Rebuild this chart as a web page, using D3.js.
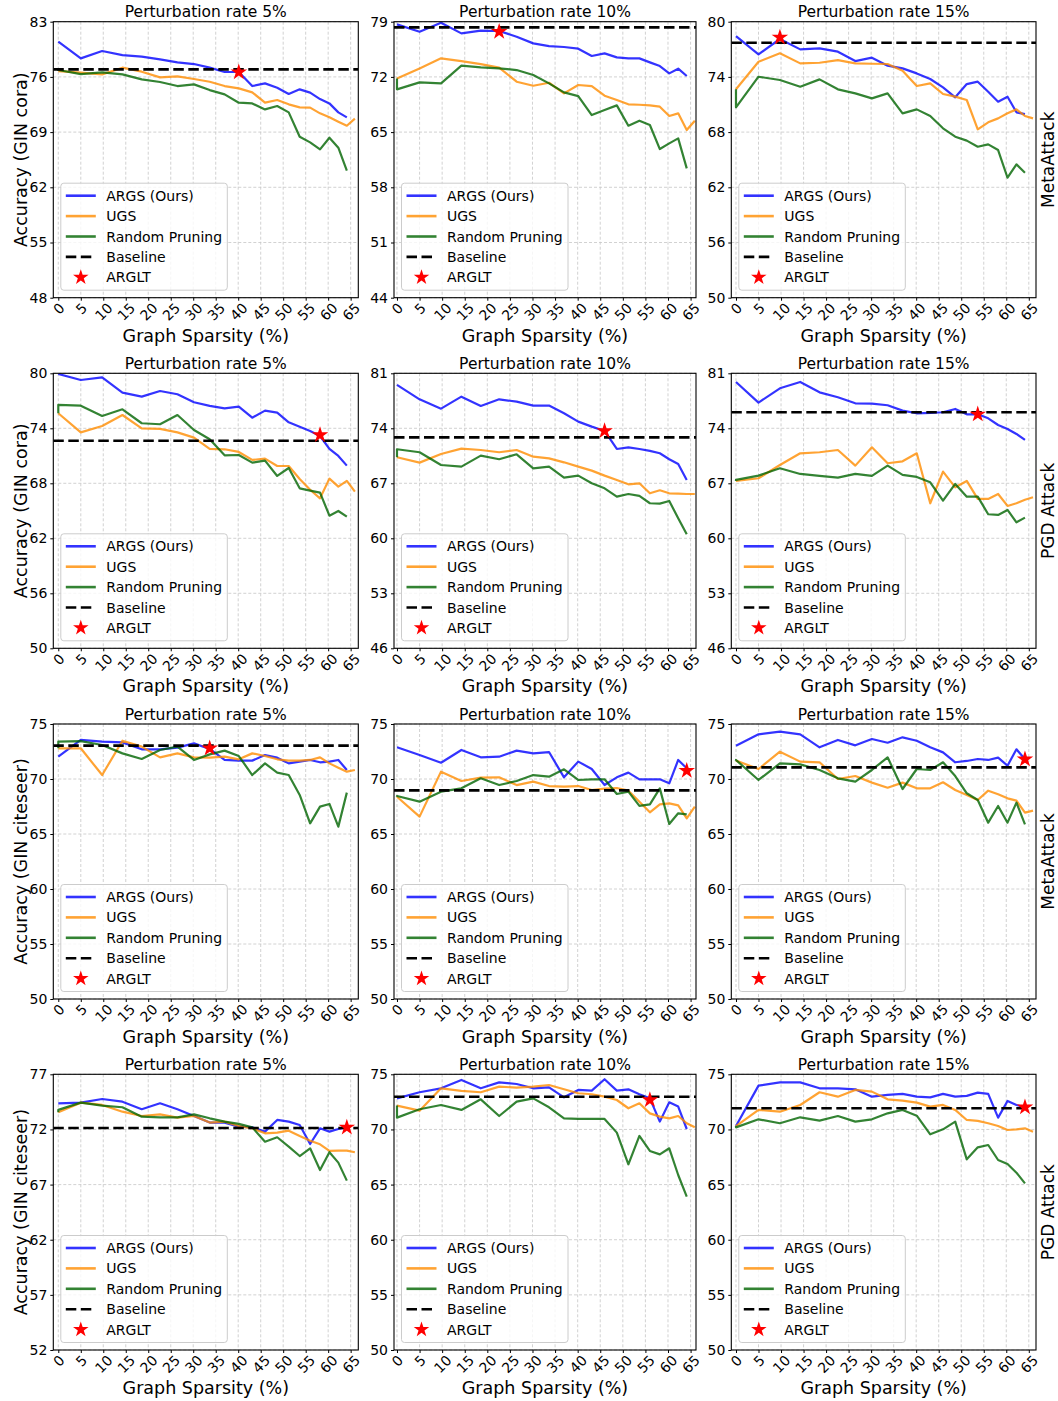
<!DOCTYPE html>
<html><head><meta charset="utf-8">
<script src="https://cdn.jsdelivr.net/npm/d3@7"></script>
<style>body{margin:0;background:#fff}svg{display:block;font-family:"DejaVu Sans",sans-serif}</style>
</head><body>
<script>
// ---------- data ----------
const sparsity = [0,5,9.75,14.26,18.55,22.62,26.49,30.17,33.66,36.98,40.13,43.12,45.96,48.67,51.23,53.67,55.99,58.19,60.28,62.26,64.15,65.94];
const sparsityRandom = [0,0,5,9.75,14.26,18.55,22.62,26.49,30.17,33.66,36.98,40.13,43.12,45.96,48.67,51.23,53.67,55.99,58.19,60.28,62.26,64.15];
const xTicks = [0,5,10,15,20,25,30,35,40,45,50,55,60,65];
const titles = ["Perturbation rate 5%","Perturbation rate 10%","Perturbation rate 15%"];
const yLabels = ["Accuracy (GIN cora)","Accuracy (GIN cora)","Accuracy (GIN citeseer)","Accuracy (GIN citeseer)"];
const rowLabels = ["MetaAttack","PGD Attack","MetaAttack","PGD Attack"];
const seriesNames = ["ARGS (Ours)","UGS","Random Pruning","Baseline","ARGLT"];
const yTicks = [
  [48,55,62,69,76,83],[44,51,58,65,72,79],[50,56,62,68,74,80],
  [50,56,62,68,74,80],[46,53,60,67,74,81],[46,53,60,67,74,81],
  [50,55,60,65,70,75],[50,55,60,65,70,75],[50,55,60,65,70,75],
  [52,57,62,67,72,77],[50,55,60,65,70,75],[50,55,60,65,70,75]
];

// Row 1: GIN cora, MetaAttack
const args_cora_meta_5  = [80.46,78.35,79.28,78.77,78.56,78.22,77.84,77.63,77.17,76.62,76.62,74.84,75.18,74.63,73.83,74.42,74.0,73.19,72.64,71.5,70.87];
const ugs_cora_meta_5   = [76.74,76.53,76.32,77.17,76.66,75.94,76.07,75.73,75.39,74.84,74.55,74.04,72.73,73.07,72.52,72.14,72.1,71.38,70.87,70.32,69.81,70.7];
const rand_cora_meta_5  = [76.74,76.87,76.36,76.57,76.32,75.69,75.35,74.84,75.05,74.33,73.79,72.73,72.64,71.88,72.31,71.5,68.42,67.7,66.81,68.29,67.02,64.1];
const args_cora_meta_10 = [78.66,77.73,78.87,77.52,77.86,77.82,77.1,76.25,75.91,75.79,75.58,74.65,74.98,74.48,74.35,74.35,73.84,73.38,72.45,73.04,72.11];
const ugs_cora_meta_10  = [71.81,73.08,74.35,74.01,73.63,73.17,71.39,70.88,71.26,69.91,70.97,70.84,69.62,69.07,68.52,68.47,68.4,68.22,67.04,67.38,65.26,66.45];
const rand_cora_meta_10 = [71.81,70.42,71.31,71.18,73.42,73.21,73.08,72.87,72.24,71.18,70.04,69.57,67.16,67.8,68.39,65.81,66.45,65.9,62.85,63.57,64.2,60.4];
const args_cora_meta_15 = [78.44,76.45,78.12,76.99,77.1,76.74,75.72,76.09,75.22,74.93,74.38,73.77,72.86,71.78,73.22,73.48,72.39,71.3,71.85,70.15,69.96];
const ugs_cora_meta_15  = [72.65,75.65,76.56,75.47,75.54,75.83,75.47,75.43,75.4,74.67,73.01,73.3,72.14,71.85,71.49,68.3,69.06,69.49,70.04,70.47,69.75,69.49];
const rand_cora_meta_15 = [72.65,70.69,74.02,73.66,72.93,73.73,72.65,72.21,71.67,72.21,70.04,70.47,69.75,68.41,67.5,67.07,66.41,66.67,66.05,63.04,64.49,63.59];
// Row 2: GIN cora, PGD
const args_cora_pgd_5  = [79.93,79.27,79.56,77.89,77.45,78.07,77.71,76.84,76.44,76.18,76.36,75.16,75.93,75.71,74.65,74.18,73.71,73.16,71.75,70.98,69.93];
const ugs_cora_pgd_5   = [75.64,73.56,74.25,75.45,74.0,73.93,73.56,72.98,71.75,71.71,71.42,70.55,70.69,69.89,69.89,68.47,67.3,66.36,68.51,67.64,68.26,67.09];
const rand_cora_pgd_5  = [75.64,76.55,76.47,75.35,76.07,74.55,74.44,75.45,73.82,72.8,71.05,71.09,70.26,70.47,68.8,69.67,67.45,67.2,66.98,64.47,64.98,64.36];
const args_cora_pgd_10 = [79.52,77.69,76.5,78.03,76.84,77.69,77.39,76.89,76.89,75.91,74.85,74.21,73.66,71.37,71.58,71.37,71.12,70.82,70.06,69.46,67.43];
const ugs_cora_pgd_10  = [70.31,69.63,70.73,71.41,71.24,70.95,71.24,70.39,70.18,69.67,69.12,68.61,67.98,67.43,66.87,67.0,65.73,66.11,65.73,65.69,65.64,65.64];
const rand_cora_pgd_10 = [70.31,71.33,70.95,69.33,69.12,70.52,70.06,70.69,68.91,69.12,67.72,67.98,67.0,66.36,65.3,65.64,65.39,64.46,64.41,64.75,62.55,60.51];
const args_cora_pgd_15 = [79.9,77.27,79.09,79.9,78.58,77.95,77.18,77.14,76.93,76.25,75.91,75.96,76.04,76.46,75.78,75.78,75.27,74.42,73.92,73.28,72.52];
const ugs_cora_pgd_15  = [67.3,67.64,69.33,70.82,70.95,71.24,69.25,71.58,69.55,69.8,70.82,64.46,68.49,66.49,67.3,65.01,65.01,65.64,64.12,64.46,64.9,65.22];
const rand_cora_pgd_15 = [67.3,67.43,67.98,68.91,68.19,67.94,67.72,68.19,67.94,69.25,68.07,67.81,67.13,64.8,66.92,65.3,65.3,63.06,62.97,63.61,62.04,62.63];
// Row 3: GIN citeseer, MetaAttack
const args_cite_meta_5  = [72.03,73.55,73.39,73.33,72.7,72.7,72.85,73.24,72.73,71.73,71.67,71.67,72.18,71.94,71.42,71.58,71.73,71.52,71.58,71.73,70.82];
const ugs_cite_meta_5   = [72.79,72.79,70.36,73.48,72.94,71.97,72.33,71.97,71.94,72.03,71.79,72.33,72.09,71.79,71.67,71.67,71.73,71.97,71.42,71.03,70.67,70.82];
const rand_cite_meta_5  = [72.79,73.39,73.45,73.09,72.33,71.82,72.64,72.94,71.73,72.24,72.58,72.09,70.36,71.42,70.58,70.36,68.55,65.97,67.49,67.73,65.67,68.76];
const args_cite_meta_10 = [72.88,72.18,71.48,72.64,71.97,72.03,72.58,72.33,72.45,70.15,71.58,70.91,69.45,70.15,70.58,69.97,69.97,69.97,69.61,71.73,70.97];
const ugs_cite_meta_10  = [68.39,66.58,70.67,69.82,70.12,70.15,69.45,69.76,69.36,69.3,69.36,69.0,69.12,69.18,68.94,67.94,66.97,67.7,67.79,67.6,66.42,67.49];
const rand_cite_meta_10 = [68.39,68.45,67.94,68.85,69.15,70.06,69.45,69.82,70.36,70.21,70.88,69.91,69.97,69.97,68.64,68.85,67.55,67.7,69.15,65.91,66.88,66.79];
const args_cite_meta_15 = [73.03,74.06,74.3,74.06,72.88,73.55,73.06,73.64,73.3,73.79,73.48,72.88,72.42,71.52,71.64,71.82,71.73,71.94,71.21,72.7,71.79];
const ugs_cite_meta_15  = [71.67,70.91,72.48,71.58,71.52,70.0,70.27,69.67,69.21,69.67,69.15,69.15,69.7,69.0,68.55,68.09,68.94,68.61,68.24,68.03,66.94,67.12];
const rand_cite_meta_15 = [71.67,71.73,69.91,71.42,71.33,70.82,70.06,69.76,70.82,71.97,69.09,70.91,70.82,71.52,70.27,68.7,68.09,66.03,67.55,66.03,67.85,65.88];
// Row 4: GIN citeseer, PGD
const args_cite_pgd_5  = [74.37,74.43,74.76,74.52,73.83,74.37,73.83,73.22,72.62,72.62,72.25,72.19,71.8,72.86,72.71,72.4,70.68,72.1,71.8,72.04,72.19];
const ugs_cite_pgd_5   = [73.55,74.43,74.22,73.61,73.22,73.37,73.07,73.22,72.62,72.71,72.31,72.1,71.65,71.71,71.89,71.41,70.98,70.65,70.05,70.08,70.08,69.93];
const rand_cite_pgd_5  = [73.55,73.77,74.43,74.16,74.01,73.16,73.1,73.1,73.37,73.01,72.71,72.5,72.19,70.89,71.29,70.44,69.59,70.29,68.32,69.93,68.99,67.36];
const args_cite_pgd_10 = [72.82,73.37,73.73,74.49,73.73,74.27,74.12,73.73,73.82,72.91,73.58,73.52,74.55,73.52,73.64,73.19,72.82,70.71,72.46,72.07,70.04];
const ugs_cite_pgd_10  = [72.16,71.7,73.73,73.49,73.37,73.88,73.79,73.88,74.03,73.64,73.28,73.19,72.97,72.67,71.92,72.37,71.46,71.16,71.0,71.22,70.56,70.19];
const rand_cite_pgd_10 = [72.16,71.07,71.83,72.22,71.77,72.73,71.22,72.52,72.82,72.01,71.01,70.95,70.95,70.95,69.71,66.84,69.41,68.05,67.74,68.29,65.87,63.91];
const args_cite_pgd_15 = [70.31,73.97,74.27,74.27,73.73,73.73,73.64,72.97,73.13,73.22,72.97,72.91,73.22,72.97,73.04,73.34,73.22,71.07,72.58,72.22,72.01];
const ugs_cite_pgd_15  = [70.31,71.77,71.61,72.22,73.37,72.97,73.58,73.43,72.73,72.61,72.43,72.07,72.22,71.77,70.86,70.77,70.56,70.31,69.95,70.0,70.1,69.8];
const rand_cite_pgd_15 = [70.31,70.19,70.92,70.56,71.1,70.8,71.22,70.71,70.92,71.46,71.77,71.25,69.56,70.01,70.71,67.29,68.38,68.59,67.23,66.87,66.08,65.11];

const baselines = [76.95,78.28,77.72, 72.65,72.85,76.04, 73.03,68.97,71.06, 72.13,72.97,71.92];
const stars = [[40.13,76.6],[22.62,77.73],[9.75,78.3],
               [58.19,73.27],[45.96,73.66],[53.67,75.78],
               [33.66,72.79],[64.15,70.76],[64.15,71.79],
               [64.15,72.19],[55.99,72.67],[64.15,72.01]];

const argsData = [args_cora_meta_5,args_cora_meta_10,args_cora_meta_15,args_cora_pgd_5,args_cora_pgd_10,args_cora_pgd_15,
                  args_cite_meta_5,args_cite_meta_10,args_cite_meta_15,args_cite_pgd_5,args_cite_pgd_10,args_cite_pgd_15];
const ugsData  = [ugs_cora_meta_5,ugs_cora_meta_10,ugs_cora_meta_15,ugs_cora_pgd_5,ugs_cora_pgd_10,ugs_cora_pgd_15,
                  ugs_cite_meta_5,ugs_cite_meta_10,ugs_cite_meta_15,ugs_cite_pgd_5,ugs_cite_pgd_10,ugs_cite_pgd_15];
const randData = [rand_cora_meta_5,rand_cora_meta_10,rand_cora_meta_15,rand_cora_pgd_5,rand_cora_pgd_10,rand_cora_pgd_15,
                  rand_cite_meta_5,rand_cite_meta_10,rand_cite_meta_15,rand_cite_pgd_5,rand_cite_pgd_10,rand_cite_pgd_15];

// ---------- layout ----------
const W = 1058, H = 1401;
const colLeft = [53.3, 394, 731.3], colRight = [358.3, 696, 1036];
const colXDomain = [[-1.11,66.7],[-0.66,66.2],[-1.04,66.6]];
const rowTop = [21.7, 373.3, 724, 1074.3], rowBottom = [297.7, 648.3, 999, 1350];
const colors = {args:"#0000ff", ugs:"#ff8c00", rand:"#006400"};
const FONT = '"DejaVu Sans", sans-serif';

const svg = d3.select("body").append("svg").attr("width", W).attr("height", H);
svg.append("rect").attr("width", W).attr("height", H).attr("fill", "#fff");
const star = d3.symbol().type(d3.symbolStar).size(85);
const legendStar = d3.symbol().type(d3.symbolStar).size(75);

for (let k = 0; k < 12; k++) {
  const r = Math.floor(k / 3), c = k % 3;
  const L = colLeft[c], R = colRight[c], T = rowTop[r], B = rowBottom[r];
  const yt = yTicks[k];
  const x = d3.scaleLinear().domain(colXDomain[c]).range([L, R]);
  const y = d3.scaleLinear().domain([yt[0], yt[yt.length - 1]]).range([B, T]);
  const g = svg.append("g");

  // grid
  const grid = g.append("g").attr("stroke", "#b0b0b0").attr("stroke-width", 0.8)
    .attr("stroke-dasharray", "3,2").attr("opacity", 0.7);
  grid.selectAll("line.gx").data(xTicks).join("line")
    .attr("x1", d => x(d)).attr("x2", d => x(d)).attr("y1", T).attr("y2", B);
  grid.selectAll("line.gy").data(yt).join("line").attr("class","gy")
    .attr("y1", d => y(d)).attr("y2", d => y(d)).attr("x1", L).attr("x2", R);

  const clipId = "clip" + k;
  g.append("clipPath").attr("id", clipId).append("rect")
    .attr("x", L).attr("y", T).attr("width", R - L).attr("height", B - T);
  const plot = g.append("g").attr("clip-path", `url(#${clipId})`);

  const line = d3.line().x(d => x(d[0])).y(d => y(d[1]));
  const series = [
    {vals: argsData[k], xs: sparsity, col: colors.args},
    {vals: ugsData[k], xs: sparsity, col: colors.ugs},
    {vals: randData[k], xs: sparsityRandom, col: colors.rand}
  ];
  series.forEach(s => {
    plot.append("path").datum(s.vals.map((v, i) => [s.xs[i], v]))
      .attr("d", line).attr("fill", "none").attr("stroke", s.col)
      .attr("stroke-opacity", 0.8).attr("stroke-width", 2.2)
      .attr("stroke-linejoin", "round").attr("stroke-linecap", "butt");
  });
  plot.append("line").attr("x1", L).attr("x2", R)
    .attr("y1", y(baselines[k])).attr("y2", y(baselines[k]))
    .attr("stroke", "#000").attr("stroke-width", 2.6).attr("stroke-dasharray", "10.5,4.5");
  g.append("path").attr("d", star)
    .attr("transform", `translate(${x(stars[k][0])},${y(stars[k][1])})`)
    .attr("fill", "#ff0000");

  // spines
  g.append("rect").attr("x", L).attr("y", T).attr("width", R - L).attr("height", B - T)
    .attr("fill", "none").attr("stroke", "#000").attr("stroke-width", 1.1);

  // y axis
  const yAxis = d3.axisLeft(y).tickValues(yt).tickSize(3).tickPadding(3).tickFormat(d3.format("d"));
  const ya = g.append("g").attr("transform", `translate(${L},0)`).call(yAxis);
  ya.select(".domain").remove();
  ya.selectAll("text").attr("font-size", 14).attr("font-family", FONT).attr("fill", "#000");
  ya.selectAll("line").attr("stroke", "#000");

  // x axis with rotated labels
  const xAxis = d3.axisBottom(x).tickValues(xTicks).tickSize(3).tickFormat(d3.format("d"));
  const xa = g.append("g").attr("transform", `translate(0,${B})`).call(xAxis);
  xa.select(".domain").remove();
  xa.selectAll("line").attr("stroke", "#000");
  xa.selectAll("text").attr("font-size", 14).attr("font-family", FONT).attr("fill", "#000")
    .attr("dy", null).attr("y", 0)
    .attr("dominant-baseline", "central").attr("text-anchor", "middle")
    .each(function() {
      const w = this.getComputedTextLength();
      const h = 16.3;
      const cy = 2 + (w + h) / (2 * Math.SQRT2);
      d3.select(this).attr("transform", `translate(0,${cy}) rotate(-45)`);
    });

  // title
  g.append("text").attr("x", (L + R) / 2).attr("y", T - 4.5).attr("text-anchor", "middle")
    .attr("font-size", 15.5).attr("font-family", FONT).text(titles[c]);
  // x label
  g.append("text").attr("x", (L + R) / 2).attr("y", B + 44).attr("text-anchor", "middle")
    .attr("font-size", 17.5).attr("font-family", FONT).text("Graph Sparsity (%)");
  // y label
  if (c === 0) {
    g.append("text").attr("transform", `translate(27,${(T + B) / 2}) rotate(-90)`)
      .attr("text-anchor", "middle").attr("font-size", 17.5).attr("font-family", FONT).text(yLabels[r]);
  }
  if (c === 2) {
    g.append("text").attr("transform", `translate(1053.5,${(T + B) / 2}) rotate(-90)`)
      .attr("text-anchor", "middle").attr("font-size", 17).attr("font-family", FONT).text(rowLabels[r]);
  }

  // legend
  const lw = 166.5, lh = 107;
  const lx = L + 7.5, ly = B - 7.5 - lh;
  const leg = g.append("g");
  leg.append("rect").attr("x", lx).attr("y", ly).attr("width", lw).attr("height", lh)
    .attr("rx", 3).attr("fill", "#fff").attr("fill-opacity", 0.8)
    .attr("stroke", "#cccccc").attr("stroke-width", 1);
  const legendStyles = [
    {type: "line", col: colors.args, op: 0.8, w: 2.6, dash: null},
    {type: "line", col: colors.ugs, op: 0.8, w: 2.6, dash: null},
    {type: "line", col: colors.rand, op: 0.8, w: 2.6, dash: null},
    {type: "line", col: "#000", op: 1, w: 2.6, dash: "10.5,4.5"},
    {type: "star"}
  ];
  seriesNames.forEach((name, i) => {
    const yy = ly + 12.5 + i * 20.4;
    const st = legendStyles[i];
    if (st.type === "line") {
      const ln = leg.append("line").attr("x1", lx + 5).attr("x2", lx + 35).attr("y1", yy).attr("y2", yy)
        .attr("stroke", st.col).attr("stroke-opacity", st.op).attr("stroke-width", st.w);
      if (st.dash) ln.attr("stroke-dasharray", st.dash);
    } else {
      leg.append("path").attr("d", legendStar).attr("transform", `translate(${lx + 20},${yy})`).attr("fill", "#ff0000");
    }
    leg.append("text").attr("x", lx + 45.5).attr("y", yy).attr("dy", "0.36em")
      .attr("font-size", 14).attr("font-family", FONT).text(name);
  });
}
</script>
</body></html>
